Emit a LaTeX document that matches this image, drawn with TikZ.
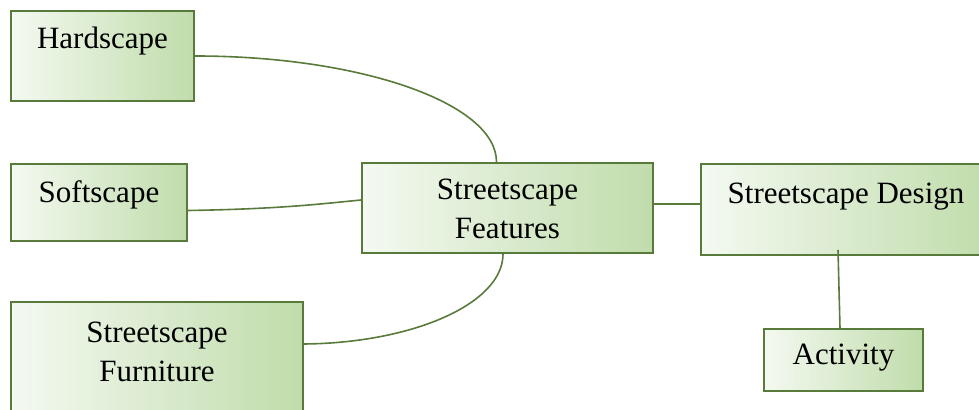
\documentclass[tikz,border=0pt]{standalone}
\usepackage{fontspec}
\setmainfont{Liberation Serif}
\usepackage{xcolor}
\usepackage{tikz}
\usetikzlibrary{shapes,positioning,calc}
\definecolor{boxleft}{HTML}{F4F9F1}
\definecolor{boxright}{HTML}{C0DCAB}
\definecolor{boxline}{HTML}{587B3B}
% height, width, top gap, text
\newcommand\Boxtext[4]{%
  \parbox[c][#1][t]{#2}{\centering\vspace*{#3}#4}}
\tikzset{greenbox/.style={
    draw=boxline,
    line width=1pt,
    left color=boxleft,
    right color=boxright,
    inner sep=0pt,
    anchor=north west,
    font=\fontsize{15.5}{19.5}\selectfont,
  }}
\begin{document}
\begin{tikzpicture}[x=0.5pt,y=-0.5pt,
        link/.style={draw=boxline, line width=0.8pt}]

        \clip (0,0) rectangle (979,410);

        % Boxes
        \node (hard) [greenbox] at (10,10) {\Boxtext{45pt}{91.5pt}{8pt}{Hardscape}};
        \node (soft) [greenbox] at (10,163) {\Boxtext{38.5pt}{88pt}{8.5pt}{Softscape}};
        \node (furn) [greenbox] at (10,301) {\Boxtext{60pt}{146pt}{10pt}{Streetscape\\Furniture}};
        \node (feat) [greenbox] at (361,162) {\Boxtext{45pt}{145.5pt}{8pt}{Streetscape\\Features}};
        \node (design) [greenbox] at (700,163) {\Boxtext{45.5pt}{145pt}{9.5pt}{Streetscape Design}};
        \node (act) [greenbox] at (763,328) {\Boxtext{31pt}{79.5pt}{7.5pt}{Activity}};

        % Connectors
        \draw [link] (hard.east) .. controls (360,56) and ($([xshift=-5.5pt]feat.north)+(0,-59)$) .. ([xshift=-5.5pt]feat.north);
        \draw [link] ([yshift=-4pt]soft.east) .. controls (280,209) and (320,204) .. ([yshift=4pt]feat.west);
        \draw [link] ([xshift=-2.25pt]feat.south) .. controls ($([xshift=-2.25pt]feat.south)+(0,50)$) and (412,343) .. ([yshift=9pt]furn.east);
        \draw [link] ([yshift=2pt]feat.east) -- ([yshift=2.75pt]design.west);
        \draw [link] ([xshift=-4pt,yshift=3pt]design.south) -- ([xshift=-1.75pt]act.north);

      \end{tikzpicture}
\end{document}
